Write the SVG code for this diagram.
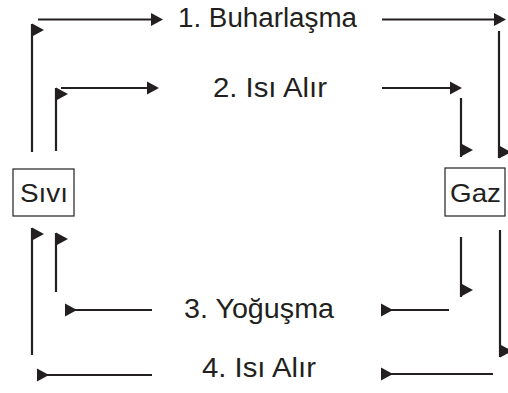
<svg xmlns="http://www.w3.org/2000/svg" xmlns:xlink="http://www.w3.org/1999/xlink" width="508" height="393" viewBox="0 0 508 393">
<style>
.ln{stroke:#231f20;stroke-width:2.2;fill:none}
.tx{font-family:"Liberation Sans",Arial,sans-serif;font-size:27px;fill:#231f20}
.nt{font-family:"Liberation Sans",Arial,sans-serif;font-size:25px;fill:#231f20}
.bx{fill:#fff;stroke:#231f20;stroke-width:1.2}
</style>
<defs>
<path id="tri" d="M0,-6.5 L12,0 L0,6.5 Z" fill="#231f20"/>
</defs>
<rect width="508" height="393" fill="#fff"/>
<g id="node-sivi">
<rect class="bx" x="13" y="169" width="61" height="47"/>
<text class="nt" x="20" y="202" textLength="48" lengthAdjust="spacingAndGlyphs">Sıvı</text>
</g>
<g id="node-gaz">
<rect class="bx" x="445" y="168" width="60" height="48"/>
<text class="nt" x="450" y="202" textLength="51" lengthAdjust="spacingAndGlyphs">Gaz</text>
</g>
<g id="labels">
<text class="tx" x="178" y="27" textLength="179" lengthAdjust="spacingAndGlyphs">1. Buharlaşma</text>
<text class="tx" x="213" y="97" textLength="114" lengthAdjust="spacingAndGlyphs">2. Isı Alır</text>
<text class="tx" x="184" y="318" textLength="150" lengthAdjust="spacingAndGlyphs">3. Yoğuşma</text>
<text class="tx" x="202" y="377" textLength="114" lengthAdjust="spacingAndGlyphs">4. Isı Alır</text>
</g>
<g id="connectors">
<path class="ln" d="M32,152 V24 M38,19.5 H151 M382,19.5 H494 M499,31 V158"/>
<use xlink:href="#tri" x="32" y="30"/>
<use xlink:href="#tri" x="151" y="19.5"/>
<use xlink:href="#tri" x="494" y="19.5"/>
<use xlink:href="#tri" x="499" y="152"/>
<path class="ln" d="M56,151 V88 M61,88 H147 M382,88 H450 M461,98 V157"/>
<use xlink:href="#tri" x="56" y="94"/>
<use xlink:href="#tri" x="147" y="88"/>
<use xlink:href="#tri" x="450" y="88"/>
<use xlink:href="#tri" x="461" y="150"/>
<path class="ln" d="M56,233 V292 M65,310 H152 M381,310 H449 M461,237 V297"/>
<use xlink:href="#tri" x="56" y="239"/>
<use xlink:href="#tri" x="65" y="310"/>
<use xlink:href="#tri" x="381" y="310"/>
<use xlink:href="#tri" x="461" y="290"/>
<path class="ln" d="M32,228 V355 M37,375 H152 M381,374 H493 M500,230 V357"/>
<use xlink:href="#tri" x="32" y="234"/>
<use xlink:href="#tri" x="37" y="375"/>
<use xlink:href="#tri" x="381" y="374"/>
<use xlink:href="#tri" x="500" y="351"/>
</g>
</svg>
